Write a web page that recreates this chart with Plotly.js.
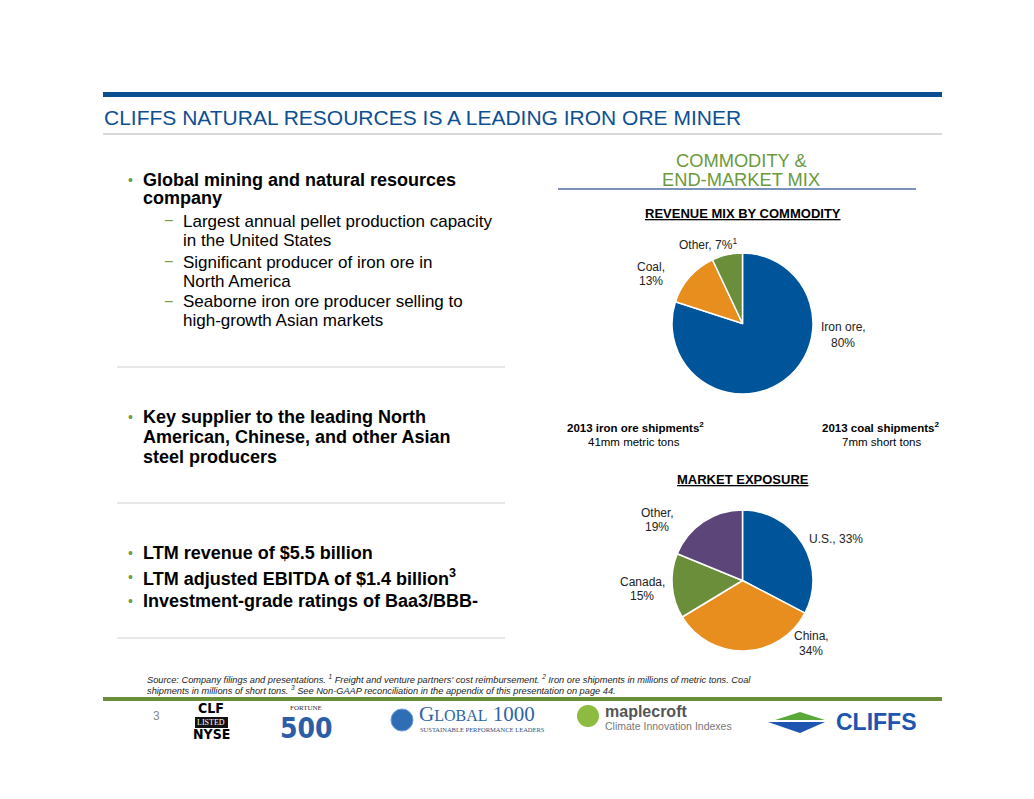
<!DOCTYPE html>
<html>
<head>
<meta charset="utf-8">
<script src="https://cdn.plot.ly/plotly-3.0.1.min.js"></script>
<style>
html,body{margin:0;padding:0;background:#fff;}
#chart{width:1034px;height:799px;}
</style>
</head>
<body>
<div id="chart"></div>
<script>
// ---- data ----
var commodityLabels = ["Iron ore", "Coal", "Other"];
var commodityValues = [80, 13, 7];
var marketLabels = ["U.S.", "China", "Canada", "Other"];
var marketValues = [33, 34, 15, 19];
var leftBullets1 = ["Global mining and natural resources", "company"];
var subBullets = [
  ["Largest annual pellet production capacity", "in the United States"],
  ["Significant producer of iron ore in", "North America"],
  ["Seaborne iron ore producer selling to", "high-growth Asian markets"]
];
var leftBullets2 = ["Key supplier to the leading North", "American, Chinese, and other Asian", "steel producers"];
var leftBullets3 = ["LTM revenue of $5.5 billion", "LTM adjusted EBITDA of $1.4 billion<sup>3</sup>", "Investment-grade ratings of Baa3/BBB-"];

// ---- helpers ----
var W = 1034, H = 799;
function X(px){ return px / W; }
function Y(py){ return 1 - py / H; }
var FONT = "Liberation Sans, Arial, sans-serif";
var BLUE = "#00549a", ORANGE = "#e78e1f", GREEN = "#6b8e3b", PURPLE = "#5b4579";
var annotations = [];
var shapes = [];
function txt(x, y, text, opts){
  opts = opts || {};
  annotations.push({
    xref: "paper", yref: "paper", x: X(x), y: Y(y), text: text, showarrow: false,
    xanchor: opts.xa || "left", yanchor: "middle", align: opts.align || "left",
    font: {family: opts.family || FONT, size: opts.size || 12, color: opts.color || "#000",
           weight: opts.weight || "normal", style: opts.style || "normal"}
  });
}
function hline(x0, x1, y, color, w){
  shapes.push({type: "line", xref: "paper", yref: "paper", x0: X(x0), x1: X(x1), y0: Y(y), y1: Y(y),
               line: {color: color, width: w}});
}
function rect(x0, y0, x1, y1, color){
  shapes.push({type: "rect", xref: "paper", yref: "paper", x0: X(x0), x1: X(x1), y0: Y(y0), y1: Y(y1),
               fillcolor: color, line: {width: 0}});
}

// ---- header ----
rect(103, 92, 942, 97, "#0b4f92");
hline(103, 942, 134, "#d9d9d9", 2);
txt(102, 117, "CLIFFS NATURAL RESOURCES IS A LEADING IRON ORE MINER", {size: 21, color: "#0d4f93"});

// ---- left text ----
var bulletColor = "#6f9a3f";
var BSIZE = 18;
txt(126, 180, "•", {size: 14, color: bulletColor});
txt(141, 180, leftBullets1[0], {size: BSIZE, weight: "bold"});
txt(141, 198, leftBullets1[1], {size: BSIZE, weight: "bold"});
var subY = [221, 262, 302];
subBullets.forEach(function(lines, i){
  txt(162, subY[i] - 1, "−", {size: 16, color: bulletColor});
  txt(181, subY[i], lines[0], {size: 17});
  txt(181, subY[i] + 19, lines[1], {size: 17});
});
hline(117, 505, 367, "#d0d0d0", 1);
txt(126, 417, "•", {size: 14, color: bulletColor});
leftBullets2.forEach(function(l, i){ txt(141, 417 + i * 20, l, {size: BSIZE, weight: "bold"}); });
hline(117, 505, 503, "#d0d0d0", 1);
leftBullets3.forEach(function(l, i){
  txt(126, 553 + i * 24, "•", {size: 14, color: bulletColor});
  txt(141, 553 + i * 24, l, {size: BSIZE, weight: "bold"});
});
hline(117, 505, 638, "#d0d0d0", 1);

// ---- right header ----
txt(741, 160, "COMMODITY &", {size: 18.3, color: "#6a9a3c", xa: "center", align: "center"});
txt(741, 179, "END-MARKET MIX", {size: 18.3, color: "#6a9a3c", xa: "center", align: "center"});
hline(558, 916, 189, "#4f6fa3", 1.3);
txt(743, 213, "<u>REVENUE MIX BY COMMODITY</u>", {size: 13, weight: "bold", xa: "center", align: "center"});

// pie 1 labels
var LS = 12, LC = "#222";
txt(708, 244, "Other, 7%<sup>1</sup>", {size: LS, color: LC, xa: "center", align: "center"});
txt(651, 267, "Coal,", {size: LS, color: LC, xa: "center", align: "center"});
txt(651, 281, "13%", {size: LS, color: LC, xa: "center", align: "center"});
txt(843, 327, "Iron ore,", {size: LS, color: LC, xa: "center", align: "center"});
txt(843, 343, "80%", {size: LS, color: LC, xa: "center", align: "center"});

// shipments
txt(635, 427, "2013 iron ore shipments<sup>2</sup>", {size: 11.5, weight: "bold", xa: "center", align: "center"});
txt(634, 442, "41mm metric tons", {size: 11.5, xa: "center", align: "center"});
txt(881, 427, "2013 coal shipments<sup>2</sup>", {size: 11.5, weight: "bold", xa: "center", align: "center"});
txt(881, 442, "7mm short tons", {size: 11.5, xa: "center", align: "center"});
txt(743, 479, "<u>MARKET EXPOSURE</u>", {size: 13, weight: "bold", xa: "center", align: "center"});

// pie 2 labels
txt(836, 539, "U.S., 33%", {size: LS, color: LC, xa: "center", align: "center"});
txt(811, 636, "China,", {size: LS, color: LC, xa: "center", align: "center"});
txt(811, 651, "34%", {size: LS, color: LC, xa: "center", align: "center"});
txt(642, 582, "Canada,", {size: LS, color: LC, xa: "center", align: "center"});
txt(642, 596, "15%", {size: LS, color: LC, xa: "center", align: "center"});
txt(657, 513, "Other,", {size: LS, color: LC, xa: "center", align: "center"});
txt(657, 527, "19%", {size: LS, color: LC, xa: "center", align: "center"});

// ---- footer ----
txt(145, 679, "Source: Company filings and presentations. <sup>1</sup> Freight and venture partners' cost reimbursement. <sup>2</sup> Iron ore shipments in millions of metric tons. Coal",
    {size: 9.25, style: "italic", color: "#222"});
txt(145, 690, "shipments in millions of short tons. <sup>3</sup> See Non-GAAP reconciliation in the appendix of this presentation on page 44.",
    {size: 9.25, style: "italic", color: "#222"});
rect(103, 697, 942, 701, "#6b8e3b");
txt(156, 716, "3", {size: 12, color: "#8a8a8a", xa: "center"});

// logos (approximated)
txt(211, 708, "CLF", {size: 14, weight: "bold", xa: "center", family: "DejaVu Sans Condensed, Liberation Sans, sans-serif"});
rect(195, 717, 228, 728, "#111");
txt(211, 722.5, "LISTED", {size: 8, color: "#fff", xa: "center", family: "Liberation Serif, serif"});
txt(211, 734, "NYSE", {size: 14, weight: "bold", xa: "center", family: "DejaVu Sans Condensed, Liberation Sans, sans-serif"});
txt(306, 708, "FORTUNE", {size: 7, color: "#333", xa: "center", family: "Liberation Serif, serif"});
txt(306, 728, "500", {size: 28, weight: "bold", color: "#2c5ea8", xa: "center", family: "DejaVu Sans Condensed, Liberation Sans, sans-serif"});
shapes.push({type: "circle", xref: "paper", yref: "paper", x0: X(391), x1: X(413), y0: Y(731), y1: Y(709),
             fillcolor: "#2f6db5", line: {color: "#6a9fd8", width: 1}});
txt(417, 714, "G<span style='font-size:16px'>LOBAL</span> 1000", {size: 21, color: "#2d64a6", family: "Liberation Serif, serif"});
txt(418, 729, "SUSTAINABLE PERFORMANCE LEADERS", {size: 6.5, color: "#2d4f7c", family: "Liberation Serif, serif"});
shapes.push({type: "circle", xref: "paper", yref: "paper", x0: X(577), x1: X(599), y0: Y(727), y1: Y(705),
             fillcolor: "#8dbb3f", line: {width: 0}});
txt(603, 711, "maplecroft", {size: 16, weight: "bold", color: "#555"});
txt(603, 726, "Climate Innovation Indexes", {size: 10.5, color: "#777"});
shapes.push({type: "path", xref: "paper", yref: "paper",
             path: "M " + X(775) + "," + Y(720) + " L " + X(800) + "," + Y(712) + " L " + X(825) + "," + Y(720) + " Z",
             fillcolor: "#5aa83a", line: {width: 0}});
shapes.push({type: "path", xref: "paper", yref: "paper",
             path: "M " + X(768) + "," + Y(722) + " L " + X(825) + "," + Y(722) + " L " + X(800) + "," + Y(733) + " Z",
             fillcolor: "#1d55b0", line: {width: 0}});
txt(834, 722, "CLIFFS", {size: 23, weight: "bold", color: "#1d55b0"});

// ---- pies ----
var data = [
  {
    type: "pie", labels: commodityLabels, values: commodityValues, sort: false, direction: "clockwise",
    rotation: 0, textinfo: "none", hoverinfo: "label+percent",
    marker: {colors: [BLUE, ORANGE, GREEN], line: {color: "#fff", width: 1.5}},
    domain: {x: [X(672), X(813)], y: [Y(394), Y(253)]}, showlegend: false
  },
  {
    type: "pie", labels: marketLabels, values: marketValues, sort: false, direction: "clockwise",
    rotation: 0, textinfo: "none", hoverinfo: "label+percent",
    marker: {colors: [BLUE, ORANGE, GREEN, PURPLE], line: {color: "#fff", width: 1.5}},
    domain: {x: [X(672), X(813)], y: [Y(651), Y(510)]}, showlegend: false
  }
];

var layout = {
  width: W, height: H,
  margin: {l: 0, r: 0, t: 0, b: 0},
  paper_bgcolor: "#fff", plot_bgcolor: "#fff",
  showlegend: false,
  annotations: annotations,
  shapes: shapes
};
Plotly.newPlot("chart", data, layout, {displayModeBar: false, staticPlot: true});
</script>
</body>
</html>
